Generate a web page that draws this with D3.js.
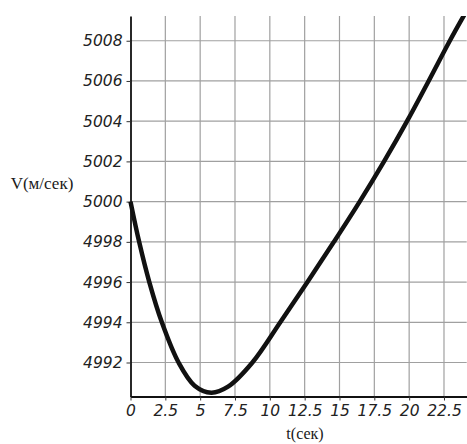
<!DOCTYPE html>
<html>
<head>
<meta charset="utf-8">
<script src="https://cdn.jsdelivr.net/npm/d3@7"></script>
<style>
  body { margin: 0; background: #fff; }
  svg { display: block; }
  .axis-title { font-family: "Liberation Serif", "Times New Roman", serif; fill: #1a1a1a; }
</style>
</head>
<body>
<svg width="467" height="444"></svg>
<script>
// Data: time (sec) and velocity (m/sec)
const tValues = [0, 0.62, 1.35, 2.25, 3.45, 4.6, 5.8, 7.0, 8.75, 10.75, 12.7, 14.6, 16.45, 18.2, 19.85, 21.4, 22.92, 24.13];
const vValues = [5000, 4998, 4996, 4994, 4992, 4990.85, 4990.5, 4990.8, 4992, 4994, 4996, 4998, 5000, 5002, 5004, 5006, 5008, 5009.5];

// Tick labels
const xTicks = [0, 2.5, 5, 7.5, 10, 12.5, 15, 17.5, 20, 22.5];
const yTicks = [4992, 4994, 4996, 4998, 5000, 5002, 5004, 5006, 5008];

const xLabel = "t(сек)";
const yLabel = "V(м/сек)";

const data = tValues.map((t, i) => ({ t: t, v: vValues[i] }));

// Plot area
const plot = { left: 130.5, right: 466.7, top: 16, bottom: 396.5 };

const svg = d3.select("svg");

// Scales
const xScale = d3.scaleLinear()
    .domain([0, 24.13])
    .range([plot.left, plot.right]);

const yScale = d3.scaleLinear()
    .domain([4990.31, 5009.23])
    .range([plot.bottom, plot.top]);

// Grid lines
svg.append("g")
    .selectAll("line")
    .data(xTicks.slice(1))
    .enter()
    .append("line")
    .attr("x1", d => xScale(d))
    .attr("x2", d => xScale(d))
    .attr("y1", plot.top)
    .attr("y2", plot.bottom)
    .attr("stroke", "#a0a0a0")
    .attr("stroke-width", 1.2);

svg.append("g")
    .selectAll("line")
    .data(yTicks)
    .enter()
    .append("line")
    .attr("x1", plot.left)
    .attr("x2", plot.right)
    .attr("y1", d => yScale(d))
    .attr("y2", d => yScale(d))
    .attr("stroke", "#a0a0a0")
    .attr("stroke-width", 1.2);

// x axis
const xAxis = svg.append("g")
    .attr("transform", `translate(0, ${plot.bottom})`)
    .call(d3.axisBottom(xScale)
        .tickValues(xTicks)
        .tickSize(4)
        .tickSizeOuter(0)
        .tickFormat(d3.format("")));

// y axis
const yAxis = svg.append("g")
    .attr("transform", `translate(${plot.left}, 0)`)
    .call(d3.axisLeft(yScale)
        .tickValues(yTicks)
        .tickSize(4)
        .tickSizeOuter(0)
        .tickFormat(d3.format("d")));

[xAxis, yAxis].forEach(function(g) {
    g.attr("font-family", "DejaVu Sans").attr("font-size", 15.5);
    g.select(".domain").attr("stroke", "#111").attr("stroke-width", 1.8);
    g.selectAll(".tick line").attr("stroke", "#333").attr("stroke-width", 1);
    g.selectAll(".tick text")
        .attr("fill", "#222")
        .style("font-style", "italic");
});

xAxis.selectAll(".tick text").attr("y", 8);
yAxis.selectAll(".tick text").attr("x", -8);

// Curve, clipped to the plot area
svg.append("clipPath").attr("id", "plot-clip")
    .append("rect")
    .attr("x", plot.left - 3)
    .attr("y", plot.top)
    .attr("width", plot.right - plot.left + 3)
    .attr("height", plot.bottom - plot.top + 3);

const line = d3.line()
    .x(d => xScale(d.t))
    .y(d => yScale(d.v))
    .curve(d3.curveCatmullRom.alpha(0.5));

svg.append("path")
    .datum(data)
    .attr("clip-path", "url(#plot-clip)")
    .attr("fill", "none")
    .attr("stroke", "#111")
    .attr("stroke-width", 4.5)
    .attr("d", line);

// Axis labels
svg.append("text")
    .attr("class", "axis-title")
    .attr("x", 305)
    .attr("y", 439)
    .attr("text-anchor", "middle")
    .attr("font-size", 16)
    .text(xLabel);

svg.append("text")
    .attr("class", "axis-title")
    .attr("x", 42)
    .attr("y", 189)
    .attr("text-anchor", "middle")
    .attr("font-size", 17)
    .text(yLabel);
</script>
</body>
</html>
